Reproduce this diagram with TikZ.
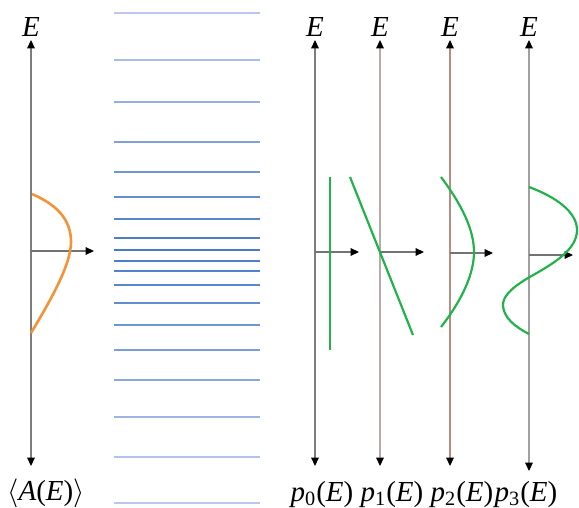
\documentclass[tikz,border=0pt]{standalone}
\usepackage{fontspec}
\setmainfont{Liberation Serif}
\usetikzlibrary{arrows.meta}
\definecolor{lvdark}{RGB}{72,122,200}
\definecolor{lvlight}{RGB}{185,200,235}
\definecolor{curvegreen}{RGB}{34,178,76}
\definecolor{curveorange}{RGB}{243,146,55}
\definecolor{axA}{RGB}{125,125,125}
\definecolor{axB}{RGB}{185,170,170}
\definecolor{axC}{RGB}{185,140,130}
\definecolor{axD}{RGB}{160,160,160}
\definecolor{haxis}{RGB}{115,115,115}
\tikzset{
  blacktri/.tip={Triangle[length=4.2pt,width=3.8pt,color=black]},
  tip/.style={-blacktri},
  vaxis/.style={blacktri-blacktri, line width=0.55pt},
  haxisline/.style={tip, haxis, line width=0.55pt},
  lbl/.style={inner sep=0pt, anchor=base, font=\fontsize{14.5}{17}\selectfont\itshape},
  green curve/.style={curvegreen, line width=1.1pt},
  level/.style={line width=1.1pt}
}
\newcommand{\up}[1]{{\upshape #1}}
\begin{document}
\begin{tikzpicture}[x=0.5pt,y=-0.5pt]
\useasboundingbox (0,0) rectangle (579,508);
% ---- left panel <A(E)>
\coordinate (a0t) at (31,40);
\coordinate (a0b) at (31,466);
\coordinate (a0o) at (31,251);
\coordinate (a0x) at (94,251);
\draw[vaxis, axA] (a0b) -- (a0t);
\node[lbl] (lE0) at (31,37) {E};
\node[lbl] (lA) at (46,500) {$\langle$A\up{(}E\up{)}$\rangle$};
\draw[haxisline] (a0o) -- (a0x);
\draw[curveorange, line width=1.3pt] (32,194) .. controls (60,206) and (71,222) .. (71,242) .. controls (71,264) and (52,298) .. (31,333);
% ---- energy levels
\foreach \yy in {13,60,102,142,172,197,219,238,250,261,271,285,303,325,350,380,417,457,503}{
  \pgfmathsetmacro{\t}{min(100,max(0,100-abs(\yy-250)/2.2))}
  \draw[level, lvdark!\t!lvlight] (114,\yy) -- (260,\yy);
}
% ---- right panels
\foreach \n/\xx/\yb/\col/\yh/\xh in {0/315/466/axA/252/359, 1/380/466/axB/252/424, 2/450/466/axC/253/493, 3/529/471/axD/255/573}{
  \coordinate (p\n t) at (\xx,40);
  \coordinate (p\n b) at (\xx,\yb);
  \coordinate (p\n o) at (\xx,\yh);
  \coordinate (p\n x) at (\xh,\yh);
  \draw[vaxis, \col] (p\n b) -- (p\n t);
  \node[lbl] (pE\n) at (\xx,37) {E};
  \draw[haxisline] (p\n o) -- (p\n x);
}
\node[lbl] (lp0) at (322,501) {p\textsubscript{\upshape 0}\up{(}E\up{)}};
\node[lbl] (lp1) at (392,501) {p\textsubscript{\upshape 1}\up{(}E\up{)}};
\node[lbl] (lp2) at (462,501) {p\textsubscript{\upshape 2}\up{(}E\up{)}};
\node[lbl] (lp3) at (526,501) {p\textsubscript{\upshape 3}\up{(}E\up{)}};
% green curves
\draw[green curve] (330,177) -- (330,350);
\draw[green curve] (350,177) -- (413,335);
\draw[green curve] (441,177) .. controls (462,205) and (474,230) .. (474,252) .. controls (474,274) and (462,300) .. (441,327);
\draw[green curve] (529,187) .. controls (556,197) and (577,212) .. (577,230) .. controls (577,250) and (553,264) .. (528,278) .. controls (508,290) and (503,298) .. (503,305) .. controls (503,317) and (515,327) .. (529,334);
\end{tikzpicture}
\end{document}
